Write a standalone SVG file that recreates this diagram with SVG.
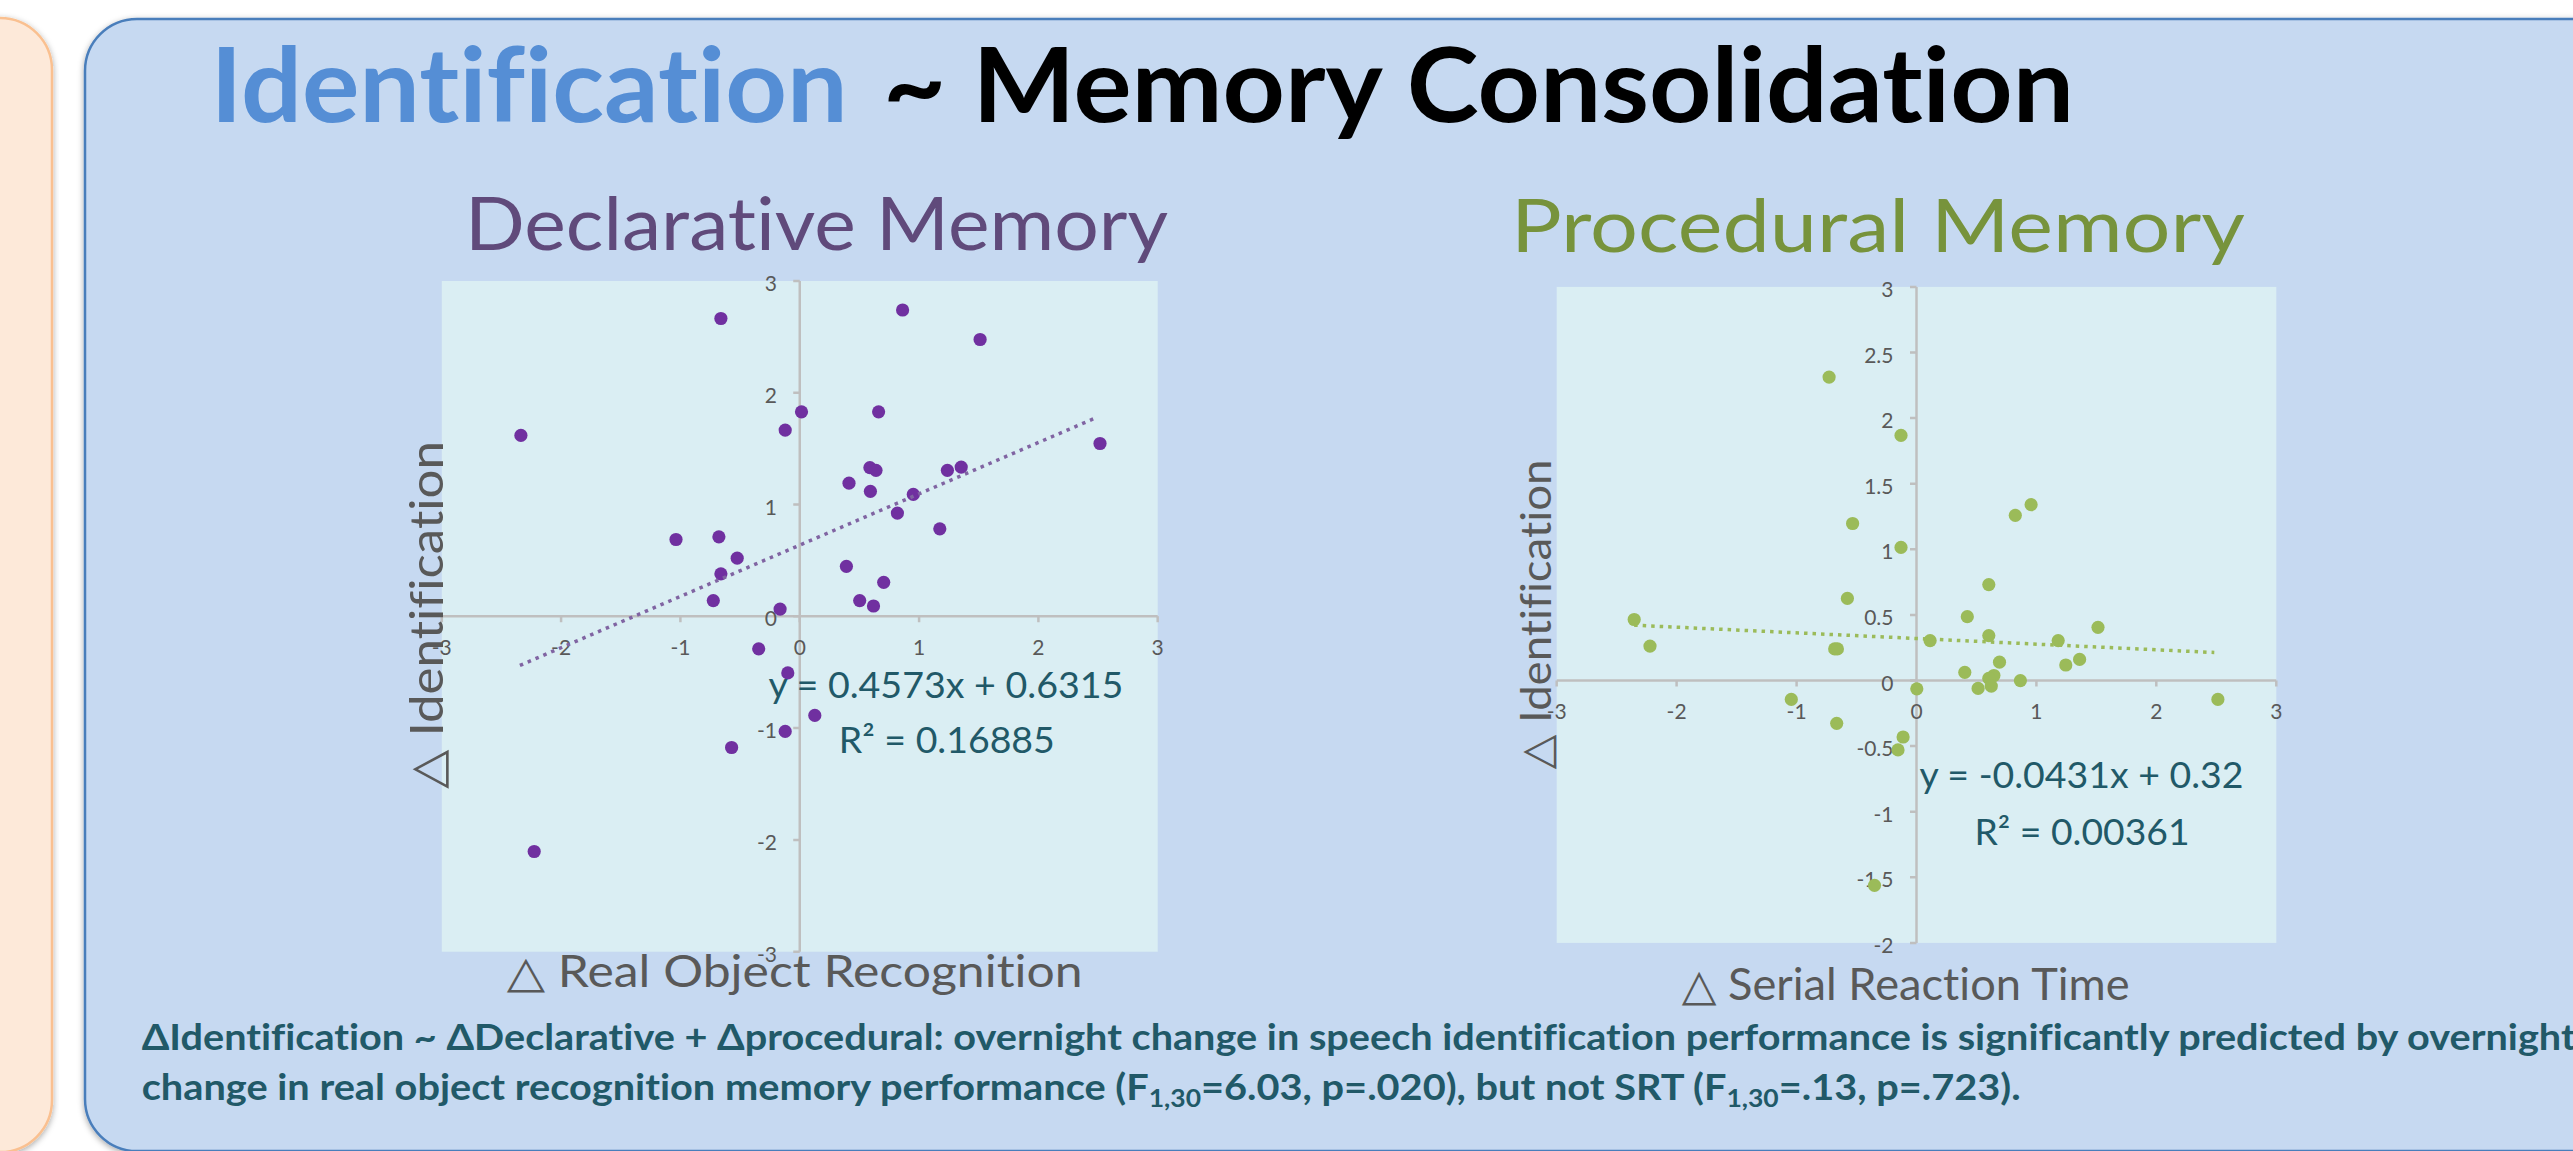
<svg xmlns="http://www.w3.org/2000/svg" width="2573" height="1151" viewBox="0 0 2573 1151">
<defs>
<style>
text{font-variant-ligatures:none}
.f{font-family:Lato,"DejaVu Sans","Noto Sans",sans-serif}
.tick{font-family:Lato,"DejaVu Sans",sans-serif;font-size:21px;fill:#595959}
.tc{text-anchor:middle}
.te{text-anchor:end}
.ax{stroke:#BFBFBF;stroke-width:2.5;fill:none}
.ttl{font-family:Lato,"DejaVu Sans",sans-serif;fill:#595959}
.eq{font-family:Lato,"DejaVu Sans",sans-serif;font-size:36px;fill:#215968}
.p1 circle{fill:#7030A0}
.p2 circle{fill:#9BBB59}
</style>
<filter id="sh" x="-5%" y="-5%" width="110%" height="110%">
<feDropShadow dx="0" dy="2" stdDeviation="3" flood-color="#000" flood-opacity="0.35"/>
</filter>
</defs>
<rect width="2573" height="1151" fill="#FFFFFF"/>
<g id="left-panel">
<rect x="-80" y="18" width="132" height="1134" rx="52" fill="#FDE9D9" stroke="#FAC090" stroke-width="2.5" filter="url(#sh)"/>
</g>
<g id="main-panel">
<rect x="85" y="19" width="2540" height="1132" rx="52" fill="#C6D9F1" stroke="#4A7EBB" stroke-width="2.5" filter="url(#sh)"/>
<text class="f" x="210.6" y="122" font-size="103" font-weight="bold" fill="#558ED5" textLength="637" lengthAdjust="spacingAndGlyphs">Identification</text>
<text class="f" x="883" y="122" font-size="103" font-weight="bold" fill="#000000" textLength="1191" lengthAdjust="spacingAndGlyphs">~ Memory Consolidation</text>
</g>
<g id="chart-declarative">
<text class="f" x="465" y="250" font-size="74" fill="#604A7B" textLength="703" lengthAdjust="spacingAndGlyphs">Declarative Memory</text>
<rect x="441.8" y="281" width="715.9" height="670.7" fill="#DAEEF3"/>
<g class="ax">
<line x1="441.8" y1="616.3" x2="1157.7" y2="616.3"/>
<line x1="799.75" y1="281" x2="799.75" y2="951.7"/>
<path d="M441.8 616.3v6M561.1 616.3v6M680.4 616.3v6M799.75 616.3v6M919.1 616.3v6M1038.4 616.3v6M1157.7 616.3v6"/>
<path d="M799.75 281h-6.5M799.75 392.8h-6.5M799.75 504.6h-6.5M799.75 616.3h-6.5M799.75 728.1h-6.5M799.75 839.9h-6.5M799.75 951.7h-6.5"/>
</g>
<g class="tick te">
<text x="777" y="291">3</text>
<text x="777" y="402.8">2</text>
<text x="777" y="514.6">1</text>
<text x="777" y="626.3">0</text>
<text x="777" y="738.1">-1</text>
<text x="777" y="849.9">-2</text>
<text x="777" y="961.7">-3</text>
</g>
<g class="tick tc">
<text x="441.8" y="655">-3</text>
<text x="561.1" y="655">-2</text>
<text x="680.4" y="655">-1</text>
<text x="799.75" y="655">0</text>
<text x="919.1" y="655">1</text>
<text x="1038.4" y="655">2</text>
<text x="1157.7" y="655">3</text>
</g>
<g class="p1">
<circle cx="520.9" cy="435.4" r="6.6"/>
<circle cx="720.9" cy="318.5" r="6.6"/>
<circle cx="902.6" cy="310.0" r="6.6"/>
<circle cx="980.1" cy="339.5" r="6.6"/>
<circle cx="801.5" cy="411.8" r="6.6"/>
<circle cx="878.6" cy="411.8" r="6.6"/>
<circle cx="785.2" cy="430.1" r="6.6"/>
<circle cx="1100.0" cy="443.5" r="6.6"/>
<circle cx="869.9" cy="467.6" r="6.6"/>
<circle cx="876.0" cy="470.3" r="6.6"/>
<circle cx="947.4" cy="470.3" r="6.6"/>
<circle cx="961.2" cy="467.1" r="6.6"/>
<circle cx="849.0" cy="483.2" r="6.6"/>
<circle cx="870.4" cy="491.3" r="6.6"/>
<circle cx="913.3" cy="494.4" r="6.6"/>
<circle cx="897.4" cy="513.1" r="6.6"/>
<circle cx="939.8" cy="528.8" r="6.6"/>
<circle cx="676.0" cy="539.5" r="6.6"/>
<circle cx="718.9" cy="536.8" r="6.6"/>
<circle cx="737.2" cy="558.2" r="6.6"/>
<circle cx="720.9" cy="573.8" r="6.6"/>
<circle cx="846.4" cy="566.3" r="6.6"/>
<circle cx="883.7" cy="582.3" r="6.6"/>
<circle cx="713.3" cy="600.6" r="6.6"/>
<circle cx="780.1" cy="609.1" r="6.6"/>
<circle cx="859.7" cy="600.6" r="6.6"/>
<circle cx="873.5" cy="606.0" r="6.6"/>
<circle cx="758.7" cy="648.8" r="6.6"/>
<circle cx="787.8" cy="672.9" r="6.6"/>
<circle cx="814.8" cy="715.4" r="6.6"/>
<circle cx="785.2" cy="731.4" r="6.6"/>
<circle cx="731.6" cy="747.5" r="6.6"/>
<circle cx="534.2" cy="851.5" r="6.6"/>
</g>
<line x1="519.9" y1="665.4" x2="1096.4" y2="417.6" stroke="#8064A2" stroke-width="3.5" stroke-dasharray="3.5 5"/>
<text class="eq" x="768.4" y="697.5" textLength="355" lengthAdjust="spacingAndGlyphs">y = 0.4573x + 0.6315</text>
<text class="eq" x="838.8" y="753.3" textLength="216" lengthAdjust="spacingAndGlyphs">R² = 0.16885</text>
<text class="ttl" transform="translate(443 615) rotate(-90)" text-anchor="middle" font-size="47" textLength="348" lengthAdjust="spacingAndGlyphs">△ Identification</text>
<text class="ttl" x="506.7" y="986.7" font-size="44" textLength="576" lengthAdjust="spacingAndGlyphs">△ Real Object Recognition</text>
</g>
<g id="chart-procedural">
<text class="f" x="1511" y="252" font-size="74" fill="#77933C" textLength="734" lengthAdjust="spacingAndGlyphs">Procedural Memory</text>
<rect x="1556.7" y="286.9" width="719.6" height="656" fill="#DAEEF3"/>
<g class="ax">
<line x1="1556.7" y1="680.5" x2="2276.3" y2="680.5"/>
<line x1="1916.5" y1="286.9" x2="1916.5" y2="942.9"/>
<path d="M1556.7 680.5v6M1676.6 680.5v6M1796.6 680.5v6M1916.5 680.5v6M2036.4 680.5v6M2156.3 680.5v6M2276.3 680.5v6"/>
<path d="M1916.5 286.9h-6.5M1916.5 352.5h-6.5M1916.5 418.1h-6.5M1916.5 483.7h-6.5M1916.5 549.3h-6.5M1916.5 614.9h-6.5M1916.5 680.5h-6.5M1916.5 746.1h-6.5M1916.5 811.7h-6.5M1916.5 877.3h-6.5M1916.5 942.9h-6.5"/>
</g>
<g class="tick te">
<text x="1893.5" y="296.9">3</text>
<text x="1893.5" y="362.5">2.5</text>
<text x="1893.5" y="428.1">2</text>
<text x="1893.5" y="493.7">1.5</text>
<text x="1893.5" y="559.3">1</text>
<text x="1893.5" y="624.9">0.5</text>
<text x="1893.5" y="690.5">0</text>
<text x="1893.5" y="756.1">-0.5</text>
<text x="1893.5" y="821.7">-1</text>
<text x="1893.5" y="887.3">-1.5</text>
<text x="1893.5" y="952.9">-2</text>
</g>
<g class="tick tc">
<text x="1556.7" y="719">-3</text>
<text x="1676.6" y="719">-2</text>
<text x="1796.6" y="719">-1</text>
<text x="1916.5" y="719">0</text>
<text x="2036.4" y="719">1</text>
<text x="2156.3" y="719">2</text>
<text x="2276.3" y="719">3</text>
</g>
<g class="p2">
<circle cx="1829.1" cy="377.1" r="6.6"/>
<circle cx="1901.0" cy="435.4" r="6.6"/>
<circle cx="2031.1" cy="504.7" r="6.6"/>
<circle cx="2015.3" cy="515.3" r="6.6"/>
<circle cx="1852.6" cy="523.5" r="6.6"/>
<circle cx="1901.0" cy="547.4" r="6.6"/>
<circle cx="1988.8" cy="584.6" r="6.6"/>
<circle cx="1847.4" cy="598.4" r="6.6"/>
<circle cx="1967.3" cy="616.7" r="6.6"/>
<circle cx="1634.2" cy="619.5" r="6.6"/>
<circle cx="2098.0" cy="627.3" r="6.6"/>
<circle cx="1988.8" cy="635.6" r="6.6"/>
<circle cx="1930.1" cy="640.6" r="6.6"/>
<circle cx="2058.2" cy="640.6" r="6.6"/>
<circle cx="1650.0" cy="646.1" r="6.6"/>
<circle cx="1834.7" cy="648.9" r="6.6"/>
<circle cx="1837.4" cy="648.9" r="6.6"/>
<circle cx="2079.6" cy="659.4" r="6.6"/>
<circle cx="1999.5" cy="662.2" r="6.6"/>
<circle cx="2065.8" cy="665.0" r="6.6"/>
<circle cx="1964.8" cy="672.3" r="6.6"/>
<circle cx="1993.9" cy="675.5" r="6.6"/>
<circle cx="1988.8" cy="678.3" r="6.6"/>
<circle cx="2020.4" cy="680.6" r="6.6"/>
<circle cx="1991.3" cy="686.1" r="6.6"/>
<circle cx="1978.1" cy="688.4" r="6.6"/>
<circle cx="1916.8" cy="688.8" r="6.6"/>
<circle cx="1791.3" cy="699.4" r="6.6"/>
<circle cx="2217.9" cy="699.4" r="6.6"/>
<circle cx="1836.7" cy="723.3" r="6.6"/>
<circle cx="1903.1" cy="737.0" r="6.6"/>
<circle cx="1898.0" cy="749.9" r="6.6"/>
<circle cx="1874.5" cy="885.3" r="6.6"/>
</g>
<line x1="1634.2" y1="625.2" x2="2214.3" y2="652.5" stroke="#9BBB59" stroke-width="3.5" stroke-dasharray="3.5 5"/>
<text class="eq" x="1919.4" y="788" textLength="324" lengthAdjust="spacingAndGlyphs">y = -0.0431x + 0.32</text>
<text class="eq" x="1974.5" y="845.4" textLength="215" lengthAdjust="spacingAndGlyphs">R² = 0.00361</text>
<text class="ttl" transform="translate(1551 614.6) rotate(-90)" text-anchor="middle" font-size="43" textLength="310" lengthAdjust="spacingAndGlyphs">△ Identification</text>
<text class="ttl" x="1681.7" y="1000" font-size="44" textLength="448" lengthAdjust="spacingAndGlyphs">△ Serial Reaction Time</text>
</g>
<g id="summary-text" fill="#215968">
<text class="f" x="141.7" y="1049.5" font-size="36" font-weight="bold" textLength="2434" lengthAdjust="spacingAndGlyphs">ΔIdentification ~ ΔDeclarative + Δprocedural: overnight change in speech identification performance is significantly predicted by overnight</text>
<text class="f" x="141.7" y="1099.5" font-size="36" font-weight="bold" textLength="1879" lengthAdjust="spacingAndGlyphs">change in real object recognition memory performance (F<tspan font-size="24" dy="7">1,30</tspan><tspan dy="-7">=6.03, p=.020), but not SRT (F</tspan><tspan font-size="24" dy="7">1,30</tspan><tspan dy="-7">=.13, p=.723).</tspan></text>
</g>
</svg>
